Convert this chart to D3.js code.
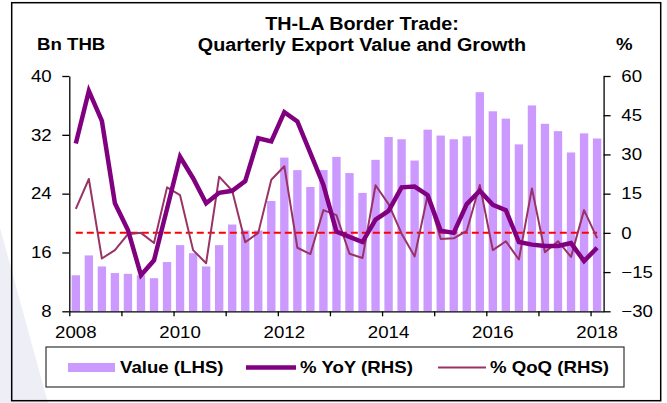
<!DOCTYPE html>
<html lang="en">
<head>
  <meta charset="UTF-8">
  <title>TH-LA Border Trade</title>
  <script src="https://d3js.org/d3.v7.min.js"></script>
  <style>
    html, body {
      margin: 0;
      background: #ffffff;
      overflow: hidden;
      font-family: "Liberation Sans", Arial, sans-serif;
    }
    text { fill: #000; }
  </style>
</head>
<body>
  <div id="chart"></div>
  <script>
    const quarters = [
      '2008Q1', '2008Q2', '2008Q3', '2008Q4', '2009Q1', '2009Q2', '2009Q3', '2009Q4',
      '2010Q1', '2010Q2', '2010Q3', '2010Q4', '2011Q1', '2011Q2', '2011Q3', '2011Q4',
      '2012Q1', '2012Q2', '2012Q3', '2012Q4', '2013Q1', '2013Q2', '2013Q3', '2013Q4',
      '2014Q1', '2014Q2', '2014Q3', '2014Q4', '2015Q1', '2015Q2', '2015Q3', '2015Q4',
      '2016Q1', '2016Q2', '2016Q3', '2016Q4', '2017Q1', '2017Q2', '2017Q3', '2017Q4',
      '2018Q1'
    ]
    // export value, Bn THB (LHS)
    const exportValue = [
      12.9, 15.6, 14.1, 13.2, 13.1, 12.9, 12.5, 14.7, 17.0, 15.9, 14.1, 17.0,
      19.8, 19.0, 19.0, 23.0, 28.9, 27.2, 24.9, 27.2, 29.0, 26.8, 24.1, 28.6,
      31.7, 31.4, 28.5, 32.7, 31.9, 31.4, 31.8, 37.8, 35.2, 34.2, 30.7, 36.0,
      33.5, 32.5, 29.6, 32.2, 31.5
    ]
    // % YoY (RHS)
    const yoy = [
      34.2, 54.3, 42.8, 11.3, 1.1, -16.2, -10.5, 9.2, 29.1, 20.9, 11.3, 15.3,
      16.1, 19.8, 36.2, 35.0, 46.2, 42.6, 30.5, 18.3, 0.5, -1.5, -3.5, 5.1,
      8.4, 17.4, 17.7, 14.4, 0.8, 0.0, 11.0, 16.1, 10.7, 8.7, -3.5, -4.5,
      -5.0, -5.0, -3.9, -10.8, -5.7
    ]
    // % QoQ (RHS)
    const qoq = [
      9.2, 20.6, -9.8, -6.6, -0.5, 0.0, -3.9, 17.4, 14.4, -6.6, -11.6, 21.5,
      16.1, -3.6, 0.0, 20.3, 25.5, -5.7, -8.1, 8.7, 6.8, -8.0, -9.6, 18.2,
      11.0, -0.3, -9.0, 14.4, -2.3, -2.1, 0.8, 18.3, -6.6, -3.2, -10.2, 17.0,
      -7.4, -3.2, -9.2, 8.7, -2.0
    ]
    const leftTicks = [8, 16, 24, 32, 40]
    const rightTicks = [-30, -15, 0, 15, 30, 45, 60]
    const yearLabels = ['2008', '2010', '2012', '2014', '2016', '2018']
    const titleLines = ['TH-LA Border Trade:', 'Quarterly Export Value and Growth']
    const legendItems = ['Value (LHS)', '% YoY (RHS)', '% QoQ (RHS)']

    const width = 667
    const height = 403
    const plot = { left: 69.3, right: 603.6, top: 76, bottom: 311.3 }
    const stretch = 1.13

    const colors = {
      bar: '#cc99ff',
      yoy: '#800080',
      qoq: '#993366',
      zero: '#ff0000',
    }

    const svg = d3.select('#chart').append('svg')
      .attr('width', width)
      .attr('height', height)

    // faint watermark at the left edge
    svg.append('path')
      .attr('d', 'M0,228 L48,403 L0,403 Z')
      .style('fill', '#eeeef7')

    // outer frame
    svg.append('rect')
      .attr('x', 11.7).attr('y', 2.7)
      .attr('width', 649).attr('height', 398)
      .style('fill', 'none')
      .style('stroke', '#000')
      .style('stroke-width', 1.5)

    const x = d3.scaleBand()
      .domain(quarters)
      .range([plot.left, plot.right])
      .paddingInner(0.36)
      .paddingOuter(0.18)

    // index scale for the year tick marks at band edges
    const xi = d3.scaleLinear()
      .domain([0, quarters.length])
      .range([plot.left, plot.right])

    const yL = d3.scaleLinear().domain([8, 40]).range([plot.bottom, plot.top])
    const yR = d3.scaleLinear().domain([-30, 60]).range([plot.bottom, plot.top])

    const center = q => x(q) + x.bandwidth() / 2

    // bars
    svg.append('g')
      .selectAll('rect')
      .data(exportValue)
      .join('rect')
      .attr('x', (d, i) => x(quarters[i]))
      .attr('y', d => yL(d))
      .attr('width', x.bandwidth())
      .attr('height', d => yL(8) - yL(d))
      .style('fill', colors.bar)

    const line = d3.line()
      .x((d, i) => center(quarters[i]))
      .y(d => yR(d))

    // zero line
    svg.append('path')
      .datum(quarters.map(() => 0))
      .attr('d', line)
      .style('fill', 'none')
      .style('stroke', colors.zero)
      .style('stroke-width', 2)
      .style('stroke-dasharray', '7,4')

    svg.append('path')
      .datum(qoq)
      .attr('d', line)
      .style('fill', 'none')
      .style('stroke', colors.qoq)
      .style('stroke-width', 2)
      .style('stroke-linejoin', 'round')

    svg.append('path')
      .datum(yoy)
      .attr('d', line)
      .style('fill', 'none')
      .style('stroke', colors.yoy)
      .style('stroke-width', 4.5)
      .style('stroke-linejoin', 'miter')

    // axes
    const axisStyle = g => {
      g.select('.domain').style('stroke', '#000').style('stroke-width', 1.3)
      g.selectAll('.tick line').style('stroke', '#000').style('stroke-width', 1.3)
      g.selectAll('text')
        .style('font-size', '16.5px')
        .style('font-family', '"Liberation Sans", Arial, sans-serif')
        .attr('transform', `scale(${stretch},1)`)
    }

    svg.append('g')
      .attr('transform', `translate(${plot.left},0)`)
      .call(d3.axisLeft(yL).tickValues(leftTicks).tickSize(7).tickSizeOuter(0).tickPadding(8.6))
      .call(axisStyle)

    svg.append('g')
      .attr('transform', `translate(${plot.right},0)`)
      .call(d3.axisRight(yR).tickValues(rightTicks).tickSize(7).tickSizeOuter(0).tickPadding(8.7))
      .call(axisStyle)

    svg.append('g')
      .attr('transform', `translate(0,${plot.bottom})`)
      .call(d3.axisBottom(xi).tickValues(d3.range(0, quarters.length, 4)).tickFormat('').tickSize(5).tickSizeOuter(0))
      .call(axisStyle)

    svg.append('g')
      .selectAll('text')
      .data(yearLabels)
      .join('text')
      .attr('transform', d => `translate(${center(d + 'Q1')},337.5) scale(${stretch},1)`)
      .style('text-anchor', 'middle')
      .style('font-size', '16.5px')
      .text(d => d)

    // titles
    svg.append('g')
      .selectAll('text')
      .data(titleLines)
      .join('text')
      .attr('transform', (d, i) => `translate(362,${30 + i * 21}) scale(${stretch},1)`)
      .style('text-anchor', 'middle')
      .style('font-size', '17.5px')
      .style('font-weight', 'bold')
      .text(d => d)

    svg.append('text')
      .attr('transform', `translate(37,50) scale(${stretch},1)`)
      .style('font-size', '16.5px')
      .style('font-weight', 'bold')
      .text('Bn THB')

    svg.append('text')
      .attr('transform', `translate(616,50) scale(${stretch},1)`)
      .style('font-size', '16.5px')
      .style('font-weight', 'bold')
      .text('%')

    // legend
    const legend = svg.append('g')
    legend.append('rect')
      .attr('x', 46).attr('y', 347)
      .attr('width', 578).attr('height', 40)
      .style('fill', '#fff')
      .style('stroke', '#333')
      .style('stroke-width', 1.2)

    legend.append('rect')
      .attr('x', 68).attr('y', 363)
      .attr('width', 47).attr('height', 9)
      .style('fill', colors.bar)
    legend.append('line')
      .attr('x1', 246).attr('x2', 296).attr('y1', 367.5).attr('y2', 367.5)
      .style('stroke', colors.yoy).style('stroke-width', 4.5)
    legend.append('line')
      .attr('x1', 438).attr('x2', 486).attr('y1', 367.5).attr('y2', 367.5)
      .style('stroke', colors.qoq).style('stroke-width', 2)

    const legendX = [120, 300, 490]
    legend.selectAll('text')
      .data(legendItems)
      .join('text')
      .attr('transform', (d, i) => `translate(${legendX[i]},373) scale(${stretch},1)`)
      .style('font-size', '16.5px')
      .style('font-weight', 'bold')
      .text(d => d)
  </script>
</body>
</html>
